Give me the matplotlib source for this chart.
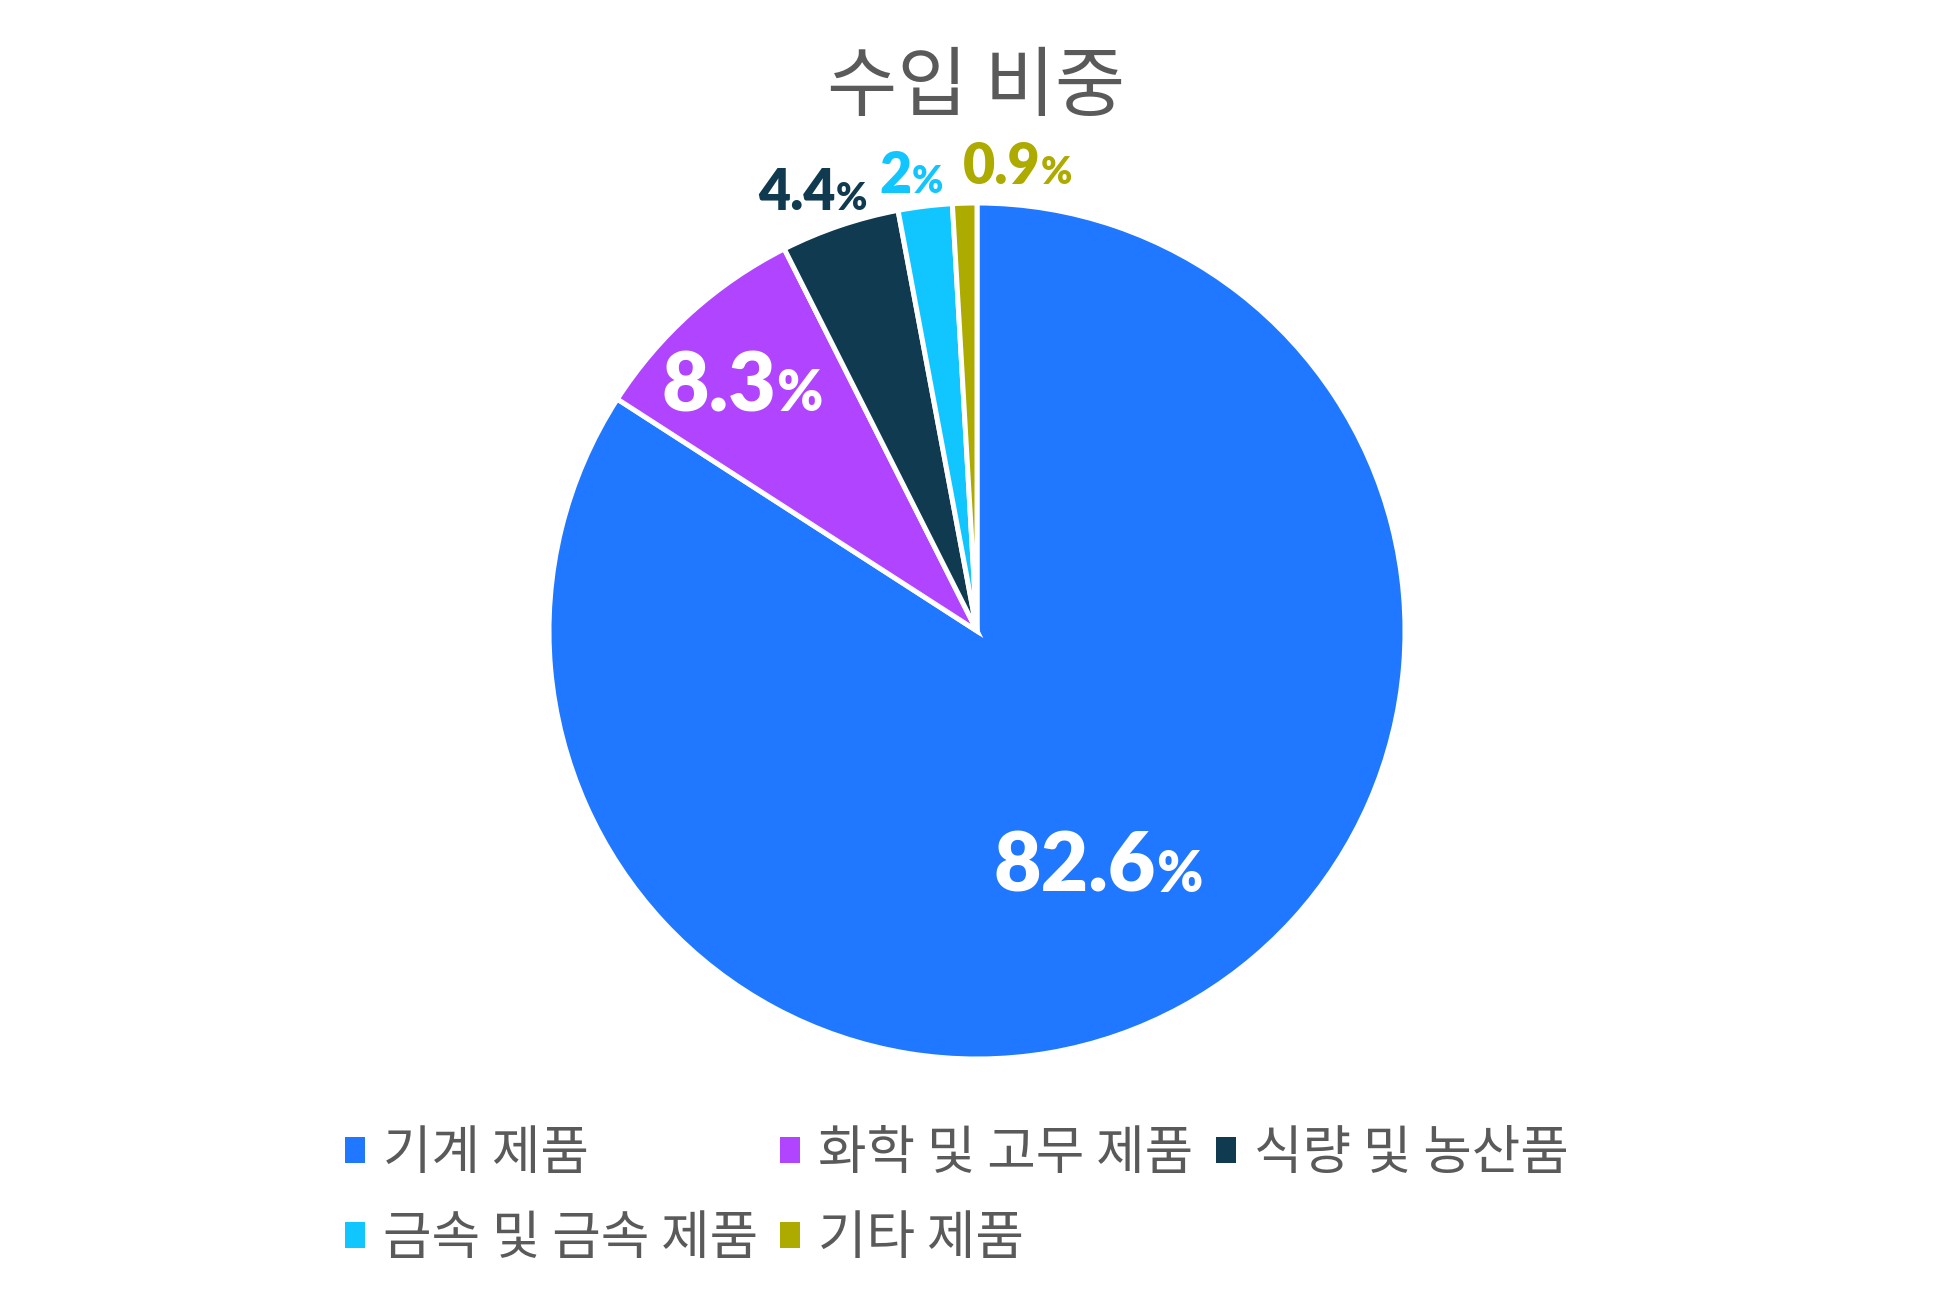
import matplotlib
matplotlib.use('Agg')
import matplotlib.pyplot as plt
from matplotlib.patches import Patch
from matplotlib.transforms import IdentityTransform
import numpy as np

# ---- data ----
categories = ['기계 제품', '화학 및 고무 제품', '식량 및 농산품', '금속 및 금속 제품', '기타 제품']
shares = [82.6, 8.3, 4.4, 2.0, 0.9]
label_texts = ['82.6', '8.3', '4.4', '2', '0.9']
colors = ['#1F78FF', '#B144FF', '#0F3A4F', '#11C6FF', '#ADAA00']
title = '수입 비중'

# ---- label layout (not data) ----
label_radius = [0.61, 0.80, 1.10, 1.082, 1.096]
label_angle_offset = [-1.0, 1.4, 1.7, 1.2, -6.6]
label_colors = ['white', 'white', '#0F3A4F', '#11C6FF', '#ADAA00']
digit_sizes = [59, 59, 40, 40, 40]
pct_sizes = [40, 40, 27, 27, 27]

TEXT_GRAY = '#5A5A5A'
KFONT = ['Noto Sans CJK KR', 'DejaVu Sans']
NFONT = ['Lato', 'DejaVu Sans']

W, H = 1953, 1302
fig = plt.figure(figsize=(W / 100, H / 100), dpi=100)
cx, cy, R = 977, 631, 428
ax = fig.add_axes([(cx - R) / W, (H - cy - R) / H, 2 * R / W, 2 * R / H])
wedges, _ = ax.pie(shares, colors=colors, startangle=90, counterclock=False,
                   radius=1, wedgeprops=dict(edgecolor='white', linewidth=3.6))
ax.set_xlim(-1, 1)
ax.set_ylim(-1, 1)
ax.set_aspect('equal')
ax.axis('off')

fig.text(0.5, 1 - 110 / H, title, ha='center', va='baseline', fontsize=55,
         color=TEXT_GRAY, family=KFONT)

fig.canvas.draw()
renderer = fig.canvas.get_renderer()
for i, w in enumerate(wedges):
    mid = np.deg2rad((w.theta1 + w.theta2) / 2 + label_angle_offset[i])
    x = label_radius[i] * np.cos(mid)
    y = label_radius[i] * np.sin(mid)
    px, py = ax.transData.transform((x, y))
    digit_h = 0.717 * digit_sizes[i] * 100 / 72
    base = py - digit_h / 2
    t1 = fig.text(0, base, label_texts[i], transform=IdentityTransform(),
                  ha='left', va='baseline', fontsize=digit_sizes[i],
                  fontweight='heavy', family=NFONT, color=label_colors[i])
    t2 = fig.text(0, base, '%', transform=IdentityTransform(),
                  ha='left', va='baseline', fontsize=pct_sizes[i],
                  fontweight='heavy', family=NFONT, color=label_colors[i])
    w1 = t1.get_window_extent(renderer).width
    w2 = t2.get_window_extent(renderer).width
    x0 = px - (w1 + w2) / 2
    t1.set_x(x0)
    t2.set_x(x0 + w1)

handles = [Patch(facecolor=c, edgecolor='none') for c in colors]
order = [0, 3, 1, 4, 2]
leg = fig.legend([handles[k] for k in order], [categories[k] for k in order],
                 ncol=3, loc='upper left', bbox_to_anchor=(345 / W, 1 - 1126 / H),
                 frameon=False, prop={'family': KFONT, 'size': 38},
                 labelcolor=TEXT_GRAY, handlelength=0.38, handleheight=0.38,
                 handletextpad=0.34, columnspacing=0.42, labelspacing=0.56,
                 borderpad=0, borderaxespad=0)

fig.savefig('out.png', dpi=100)
